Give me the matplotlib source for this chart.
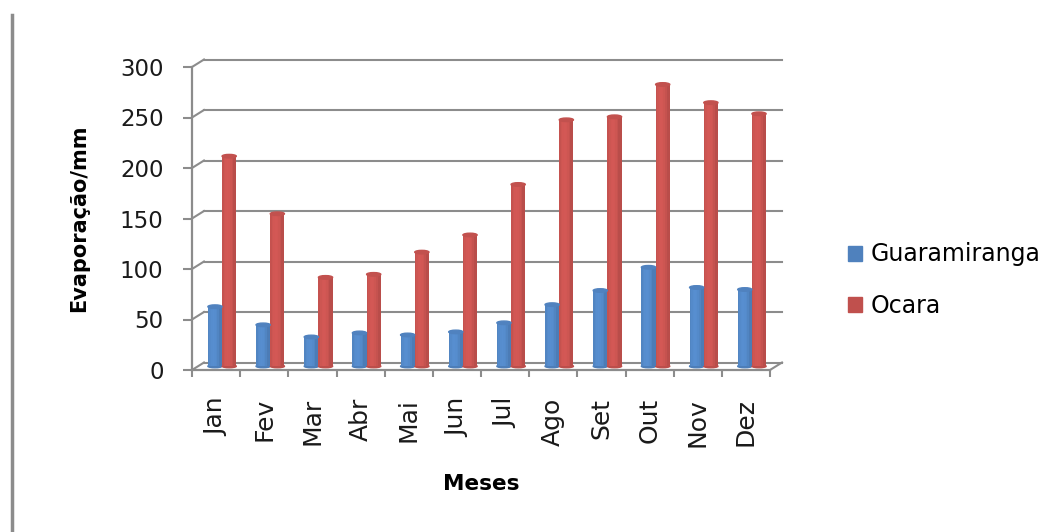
import matplotlib
matplotlib.use("Agg")
import matplotlib.pyplot as plt
import matplotlib.transforms as mtransforms
from matplotlib.patches import Ellipse, Patch
from matplotlib.lines import Line2D
import numpy as np

months = ["Jan", "Fev", "Mar", "Abr", "Mai", "Jun", "Jul", "Ago", "Set", "Out", "Nov", "Dez"]
guaramiranga = [59, 41, 29, 33, 31, 34, 43, 61, 75, 98, 78, 76]
ocara = [208, 151, 88, 91, 113, 130, 180, 244, 247, 279, 261, 250]
y_ticks = [0, 50, 100, 150, 200, 250, 300]

blue = "#4F81BD"
red = "#C0504D"
grid_c = "#8c8c8c"

fig = plt.figure(figsize=(10.58, 5.32), dpi=100)
fig.patch.set_facecolor("white")

W, H = 1058, 532
ax = fig.add_axes([192 / W, (H - 370) / H, (770 - 192) / W, (370 - 67) / H])
ax.set_xlim(-0.5, 11.5)
ax.set_ylim(0, 300)
ax.patch.set_alpha(0)

# 3d-ish offsets (back wall and middle depth)
back = mtransforms.ScaledTranslation(0.12, 0.075, fig.dpi_scale_trans)
mid = mtransforms.ScaledTranslation(0.06, 0.0375, fig.dpi_scale_trans)

# back wall gridlines + left connectors
for v in y_ticks:
    ax.plot([0, 1], [v, v], color=grid_c, lw=1.5,
            transform=ax.get_yaxis_transform() + back, clip_on=False, zorder=1)
    x0, y0 = ax.get_yaxis_transform().transform((0, v))
    ax.add_line(Line2D([x0, x0 + 12], [y0, y0 + 7.5], color=grid_c, lw=1.5,
                       transform=None, clip_on=False, zorder=1))
# floor right edge
x1, y1 = ax.transAxes.transform((1, 0))
ax.add_line(Line2D([x1, x1 + 12], [y1, y1 + 7.5], color=grid_c, lw=1.5,
                   transform=None, clip_on=False, zorder=1))

# cylinder-like bars drawn as shaded strips
x = np.arange(len(months))
bw = 0.295
n = 9
prof = np.sin(np.linspace(0.3, np.pi - 0.3, n)) ** 0.5
prof = np.roll(prof, -1)

def shade(c, f):
    rgb = np.array(matplotlib.colors.to_rgb(c))
    dark = rgb * 0.8
    light = np.minimum(rgb * 1.1, 1)
    return dark + (light - dark) * f

for vals, c, dx in [(guaramiranga, blue, -bw / 2), (ocara, red, bw / 2)]:
    sw = bw / n
    for k in range(n):
        ax.bar(x + dx - bw / 2 + sw * (k + 0.5), vals, width=sw * 1.05,
               color=shade(c, prof[k]), linewidth=0,
               transform=ax.transData + mid, zorder=3)
    for xi, v in zip(x, vals):
        ax.add_patch(Ellipse((xi + dx, v), bw, 3.5, color=shade(c, 0.7),
                             transform=ax.transData + mid, zorder=4))
        ax.add_patch(Ellipse((xi + dx, 0), bw, 3.0, color=shade(c, 0.6),
                             transform=ax.transData + mid, zorder=2))

# axes styling
for s in ["top", "right"]:
    ax.spines[s].set_visible(False)
for s in ["left", "bottom"]:
    ax.spines[s].set_color(grid_c)
    ax.spines[s].set_linewidth(1.6)

ax.set_yticks(y_ticks)
ax.tick_params(axis="y", length=6.5, width=1.5, color=grid_c, pad=14,
               labelsize=16.5, labelcolor="#1a1a1a")
ax.set_xticks(np.arange(-0.5, 12, 1))
ax.set_xticklabels([])
ax.set_xticks(x, minor=True)
ax.set_xticklabels(months, minor=True, rotation=90, va="top")
ax.tick_params(axis="x", which="major", length=5, width=1.5, color=grid_c)
ax.tick_params(axis="x", which="minor", length=0, pad=20, labelsize=18,
               labelcolor="#1a1a1a")

ax.set_ylabel("Evaporação/mm", fontsize=15, fontweight="bold", labelpad=22)
ax.set_xlabel("Meses", fontsize=15.5, fontweight="bold", labelpad=20)

handles = [Patch(color=blue), Patch(color=red)]
fig.legend(handles, ["Guaramiranga", "Ocara"], loc="center left",
           bbox_to_anchor=(848 / W, 1 - 280 / H), frameon=False, fontsize=17,
           handlelength=0.6, handleheight=0.6, handletextpad=0.35,
           labelspacing=1.15, borderpad=0, borderaxespad=0)

# left border line of the picture
fig.add_artist(Line2D([12 / W, 12 / W], [0, 1 - 15 / H], color="#8c8c8c",
                      lw=2.5, transform=fig.transFigure))

fig.savefig("out.png", dpi=100, facecolor="white")
